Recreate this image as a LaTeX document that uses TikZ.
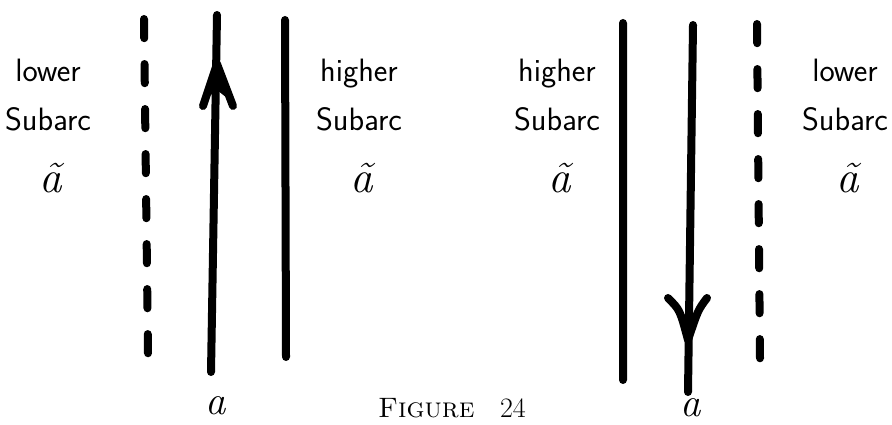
\documentclass[tikz,border=0pt]{standalone}
\usepackage{fontspec}
\begin{document}
\begin{tikzpicture}[x=0.025cm,y=-0.025cm,line join=round,line cap=round,
		curve/.style={line width=0.2cm},
		dashcurve/.style={curve,dash pattern=on 0.48cm off 0.645cm},
		hand/.style={font=\sffamily\fontsize{23}{26}\selectfont,inner sep=0pt},
		arclab/.style={font=\itshape\fontsize{29}{32}\selectfont,inner sep=0pt,anchor=base}]
	\useasboundingbox (0,0) rectangle (892,425);
	% left picture: lower subarc, arc a going up, higher subarc
	\path (144,19) coordinate (L1) (148,354) coordinate (L2)
		(211,372) coordinate (U1) (217,15) coordinate (U2)
		(217,64) coordinate (Utip) (203,106) coordinate (Uw1) (233,106) coordinate (Uw2)
		(285,20) coordinate (H1) (286,357) coordinate (H2);
	\draw[dashcurve] (L1)--(L2);
	\draw[curve] (U1)--(U2) (H1)--(H2);
	\draw[curve] (Uw1)--(Utip)--(Uw2);
	\fill (Utip)--(207,98)--(217,90)--(227,98)--cycle;
	% right picture: higher subarc, arc a going down, lower subarc
	\path (623,23) coordinate (H3) (623,380) coordinate (H4)
		(693,25) coordinate (D1) (688,392) coordinate (D2)
		(688,340) coordinate (Dtip) (668,298) coordinate (Dw1) (707,298) coordinate (Dw2)
		(757,24) coordinate (L3) (760,359) coordinate (L4);
	\draw[curve] (H3)--(H4) (D1)--(D2);
	\draw[dashcurve] (L3)--(L4);
	\draw[curve] (Dw1) .. controls (680,310) .. (Dtip) .. controls (698,310) .. (Dw2);
	% labels
	\foreach \x/\w/\n in {48/lower/1,359/higher/2,557/higher/3,845/lower/4}{
		\node[hand,anchor=base] (w\n) at (\x,82) {\w};
		\node[hand,anchor=base] (s\n) at (\x,131) {Subarc};
		\node[hand,font=\rmfamily\itshape\fontsize{32}{34}\selectfont] (t\n) at (\x+3,178) {ã};
	}
	\node[arclab] (aU) at (216,414) {a};
	\node[arclab] (aD) at (691,416) {a};
	\node[font=\fontsize{20}{24}\selectfont] (fig) at (452,408) {\textsc{Figure}\ \ \ 24};
\end{tikzpicture}
\end{document}
